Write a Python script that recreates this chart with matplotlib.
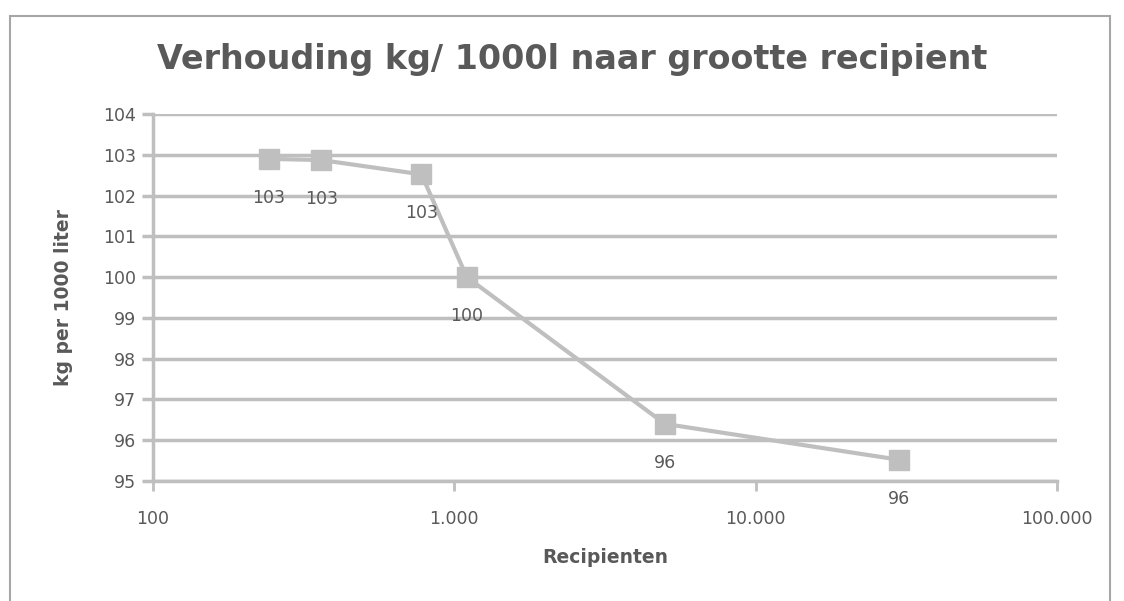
import matplotlib.pyplot as plt
from matplotlib.ticker import FuncFormatter, FixedLocator, NullLocator
from matplotlib.patches import Rectangle

##### DATA #####
recipienten = [242, 362, 778, 1100, 5000, 30000]
kg_per_1000l = [102.9, 102.87, 102.52, 100.0, 96.4, 95.52]

TITLE = "Verhouding kg/ 1000l naar grootte recipient"
X_LABEL = "Recipienten"
Y_LABEL = "kg per 1000 liter"

GREY = "#bfbfbf"
TEXT = "#595959"


def dutch_thousands(v, pos):
    return f"{int(round(v)):,}".replace(",", ".")


def main():
    plt.rcParams['font.family'] = ['DejaVu Sans']
    fig = plt.figure(figsize=(11.24, 6.01), dpi=100)
    W, H = 1124, 601
    # axes position in pixels: left 153, right 1057, top 114, bottom 481
    ax = fig.add_axes([153 / W, 1 - 481 / H, (1057 - 153) / W, (481 - 114) / H])

    # outer chart border
    fig.patches.append(Rectangle((10 / W, -0.02), (1110 - 10) / W, 1 - 16 / H + 0.02,
                                 transform=fig.transFigure, fill=False,
                                 edgecolor="#a6a6a6", linewidth=1.5))

    ax.plot(recipienten, kg_per_1000l, color=GREY, linewidth=3, marker="s",
            markersize=14, markerfacecolor=GREY, markeredgecolor=GREY, zorder=3)

    for x, y in zip(recipienten, kg_per_1000l):
        ax.annotate(f"{int(y + 0.5):d}", (x, y), xytext=(0, -28), textcoords="offset points",
                    ha="center", va="center", fontsize=12.5, color=TEXT)

    ax.set_xscale("log")
    ax.set_xlim(100, 100000)
    ax.set_ylim(95, 104)
    ax.xaxis.set_major_locator(FixedLocator([100, 1000, 10000, 100000]))
    ax.xaxis.set_minor_locator(NullLocator())
    ax.xaxis.set_major_formatter(FuncFormatter(dutch_thousands))
    ax.set_yticks(range(95, 105))

    ax.grid(axis="y", color=GREY, linewidth=2.5)
    ax.set_axisbelow(True)
    for side in ["top", "right"]:
        ax.spines[side].set_visible(False)
    ax.spines["left"].set_color(GREY)
    ax.spines["left"].set_linewidth(2.5)
    ax.spines["bottom"].set_color(GREY)
    ax.spines["bottom"].set_linewidth(2.5)

    ax.tick_params(axis="y", length=8, width=2.5, color=GREY, labelcolor=TEXT,
                   labelsize=12.5, pad=4)
    ax.tick_params(axis="x", length=7, width=2, color=GREY, labelcolor=TEXT,
                   labelsize=12.5, pad=14)

    ax.set_xlabel(X_LABEL, fontsize=13.5, fontweight="bold", color=TEXT, labelpad=14)
    ax.set_ylabel(Y_LABEL, fontsize=13.5, fontweight="bold", color=TEXT, labelpad=22)
    fig.text(572 / W, 1 - 60 / H, TITLE, ha="center", va="center",
             fontsize=24, fontweight="bold", color=TEXT)

    fig.savefig("out.png", dpi=100)


main()
